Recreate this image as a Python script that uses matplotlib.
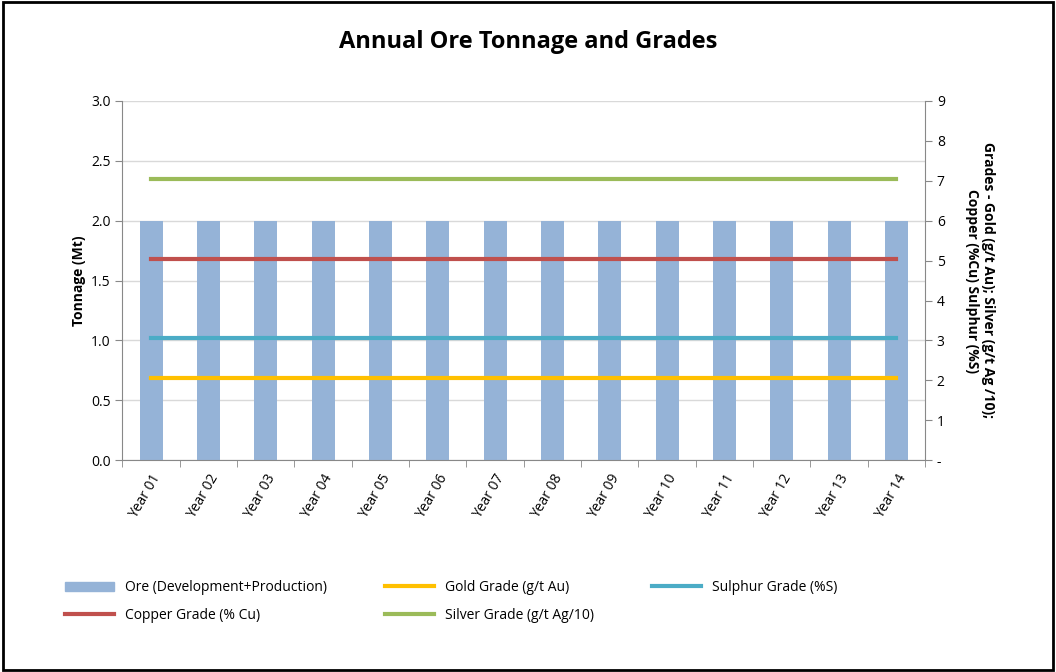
import matplotlib
matplotlib.use('Agg')
import matplotlib.pyplot as plt
from matplotlib.patches import Rectangle
from matplotlib.lines import Line2D

plt.rcParams['font.family'] = ['Open Sans', 'DejaVu Sans']

# data ===========================================================================
years = ['Year %02d' % i for i in range(1, 15)]
ore_mt = [2.0] * 14
gold_grade = [2.05] * 14
copper_grade = [5.05] * 14
sulphur_grade = [3.05] * 14
silver_grade = [7.05] * 14
# ===============================================================================

fig = plt.figure(figsize=(10.56, 6.72), dpi=100)
fig.patches.append(Rectangle((0.003, 0.003), 0.994, 0.994, transform=fig.transFigure,
                             fill=False, edgecolor='black', linewidth=2))

ax = fig.add_axes([0.116, 0.315, 0.76, 0.535])
x = list(range(len(years)))
ax.bar(x, ore_mt, width=0.4, color='#95b3d7', zorder=2)
ax.set_ylim(0, 3.0)
ax.set_yticks([0, 0.5, 1.0, 1.5, 2.0, 2.5, 3.0])
ax.set_yticklabels(['%.1f' % v for v in ax.get_yticks()], fontsize=10)
ax.set_xlim(-0.5, len(years) - 0.5)
ax.set_xticks(x)
ax.set_xticklabels(years, rotation=60, ha='right', rotation_mode='anchor', fontsize=10)
ax.set_xticks([i - 0.5 for i in range(len(years) + 1)], minor=True)
ax.tick_params(axis='x', which='major', length=0, pad=8)
ax.tick_params(axis='x', which='minor', length=5, color='#888888')
ax.tick_params(axis='y', length=5, color='#888888')
ax.grid(axis='y', color='#d9d9d9', linewidth=1, zorder=0)
for s in ['top', 'right']:
    ax.spines[s].set_visible(False)
for s in ['left', 'bottom']:
    ax.spines[s].set_color('#888888')
ax.set_ylabel('Tonnage (Mt)', fontsize=10, fontweight='bold')

ax2 = ax.twinx()
ax2.plot(x, silver_grade, color='#9bbb59', linewidth=3)
ax2.plot(x, copper_grade, color='#c0504d', linewidth=3)
ax2.plot(x, sulphur_grade, color='#4bacc6', linewidth=3)
ax2.plot(x, gold_grade, color='#ffc000', linewidth=3)
ax2.set_ylim(0, 9)
ax2.set_yticks(range(10))
ax2.set_yticklabels(['-'] + [str(i) for i in range(1, 10)], fontsize=10)
ax2.tick_params(axis='y', length=5, color='#888888')
for s in ['top', 'left', 'bottom']:
    ax2.spines[s].set_visible(False)
ax2.spines['right'].set_color('#888888')
ax2.set_ylabel('Grades - Gold (g/t Au); Silver (g/t Ag /10);\nCopper (%Cu) Sulphur (%S)',
               fontsize=10, fontweight='bold', rotation=270, labelpad=36)

fig.suptitle('Annual Ore Tonnage and Grades', fontsize=17, fontweight='bold', y=0.955)

handles = [
    Rectangle((0, 0), 1, 1, color='#95b3d7'),
    Line2D([], [], color='#c0504d', linewidth=3),
    Line2D([], [], color='#ffc000', linewidth=3),
    Line2D([], [], color='#9bbb59', linewidth=3),
    Line2D([], [], color='#4bacc6', linewidth=3),
]
labels = ['Ore (Development+Production)', 'Copper Grade (% Cu)', 'Gold Grade (g/t Au)',
          'Silver Grade (g/t Ag/10)', 'Sulphur Grade (%S)']
fig.legend(handles, labels, ncol=3, loc='upper left', bbox_to_anchor=(0.05, 0.155),
           frameon=False, fontsize=10, handlelength=3.5, columnspacing=4.2,
           labelspacing=0.9)

fig.savefig('out.png', dpi=100)
